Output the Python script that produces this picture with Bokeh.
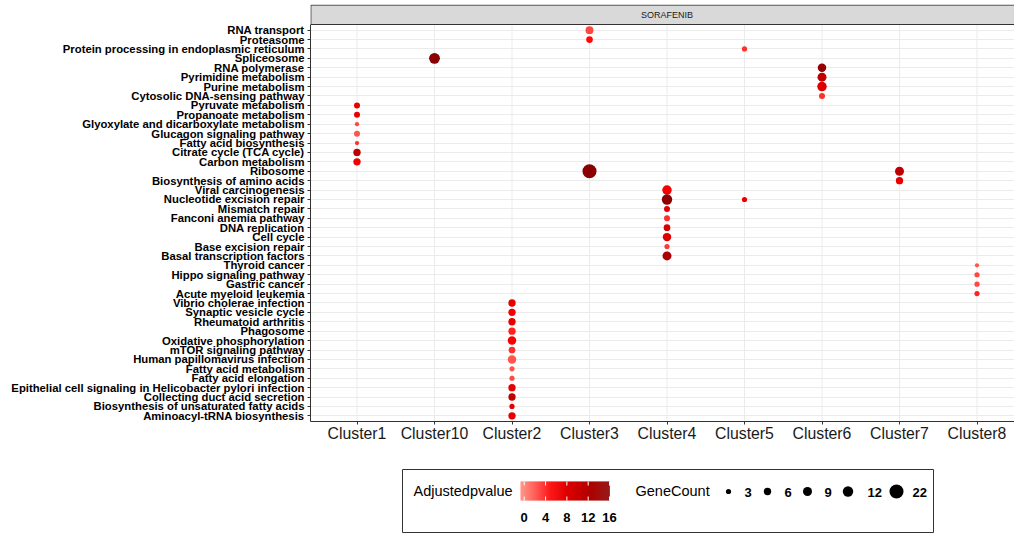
import math
from bokeh.plotting import figure
from bokeh.models import Range1d, FixedTicker, LinearColorMapper, ColumnDataSource
from bokeh.transform import transform
from bokeh.layouts import column
from bokeh.embed import file_html
from bokeh.resources import INLINE
from bokeh.core.properties import value

# ---------------- data ----------------
facet_label = "SORAFENIB"
clusters = ["Cluster1", "Cluster10", "Cluster2", "Cluster3", "Cluster4",
            "Cluster5", "Cluster6", "Cluster7", "Cluster8"]

# y categories, top to bottom
pathways = [
    "RNA transport", "Proteasome", "Protein processing in endoplasmic reticulum",
    "Spliceosome", "RNA polymerase", "Pyrimidine metabolism", "Purine metabolism",
    "Cytosolic DNA-sensing pathway", "Pyruvate metabolism", "Propanoate metabolism",
    "Glyoxylate and dicarboxylate metabolism", "Glucagon signaling pathway",
    "Fatty acid biosynthesis", "Citrate cycle (TCA cycle)", "Carbon metabolism",
    "Ribosome", "Biosynthesis of amino acids", "Viral carcinogenesis",
    "Nucleotide excision repair", "Mismatch repair", "Fanconi anemia pathway",
    "DNA replication", "Cell cycle", "Base excision repair",
    "Basal transcription factors", "Thyroid cancer", "Hippo signaling pathway",
    "Gastric cancer", "Acute myeloid leukemia", "Vibrio cholerae infection",
    "Synaptic vesicle cycle", "Rheumatoid arthritis", "Phagosome",
    "Oxidative phosphorylation", "mTOR signaling pathway",
    "Human papillomavirus infection", "Fatty acid metabolism",
    "Fatty acid elongation",
    "Epithelial cell signaling in Helicobacter pylori infection",
    "Collecting duct acid secretion", "Biosynthesis of unsaturated fatty acids",
    "Aminoacyl-tRNA biosynthesis",
]

dot_pathway = [
    "RNA transport", "Proteasome", "Protein processing in endoplasmic reticulum",
    "Spliceosome", "RNA polymerase", "Pyrimidine metabolism", "Purine metabolism",
    "Cytosolic DNA-sensing pathway", "Pyruvate metabolism", "Propanoate metabolism",
    "Glyoxylate and dicarboxylate metabolism", "Glucagon signaling pathway",
    "Fatty acid biosynthesis", "Citrate cycle (TCA cycle)", "Carbon metabolism",
    "Ribosome", "Ribosome", "Biosynthesis of amino acids", "Viral carcinogenesis",
    "Nucleotide excision repair", "Nucleotide excision repair", "Mismatch repair",
    "Fanconi anemia pathway", "DNA replication", "Cell cycle",
    "Base excision repair", "Basal transcription factors", "Thyroid cancer",
    "Hippo signaling pathway", "Gastric cancer", "Acute myeloid leukemia",
    "Vibrio cholerae infection", "Synaptic vesicle cycle", "Rheumatoid arthritis",
    "Phagosome", "Oxidative phosphorylation", "mTOR signaling pathway",
    "Human papillomavirus infection", "Fatty acid metabolism",
    "Fatty acid elongation",
    "Epithelial cell signaling in Helicobacter pylori infection",
    "Collecting duct acid secretion", "Biosynthesis of unsaturated fatty acids",
    "Aminoacyl-tRNA biosynthesis",
]
dot_cluster = [
    "Cluster3", "Cluster3", "Cluster5", "Cluster10", "Cluster6", "Cluster6",
    "Cluster6", "Cluster6", "Cluster1", "Cluster1", "Cluster1", "Cluster1",
    "Cluster1", "Cluster1", "Cluster1", "Cluster3", "Cluster7", "Cluster7",
    "Cluster4", "Cluster4", "Cluster5", "Cluster4", "Cluster4", "Cluster4",
    "Cluster4", "Cluster4", "Cluster4", "Cluster8", "Cluster8", "Cluster8",
    "Cluster8", "Cluster2", "Cluster2", "Cluster2", "Cluster2", "Cluster2",
    "Cluster2", "Cluster2", "Cluster2", "Cluster2", "Cluster2", "Cluster2",
    "Cluster2", "Cluster2",
]
dot_count = [7, 5, 3, 13, 8, 9, 10, 4, 4, 4, 2, 4, 2, 6, 6, 22, 9, 6, 10, 12, 3,
             4, 4, 5, 8, 3, 9, 2, 3, 3, 3, 6, 6, 6, 6, 8, 5, 8, 3, 3, 6, 6, 3, 6]
dot_padj = [2.0, 4.5, 3.0, 16.0, 15.0, 11.0, 8.0, 3.0, 7.0, 7.0, 2.0, 1.5, 3.0,
            11.0, 6.0, 16.0, 11.0, 7.0, 5.5, 16.0, 7.0, 8.0, 3.0, 9.0, 8.0, 2.5,
            13.0, 1.5, 2.0, 2.0, 3.5, 7.0, 6.0, 7.0, 3.5, 5.5, 3.0, 1.5, 1.5,
            2.0, 7.0, 11.0, 7.0, 7.0]

color_title = "Adjustedpvalue"
color_breaks = [0, 4, 8, 12, 16]
size_title = "GeneCount"
size_breaks = [3, 6, 9, 12, 22]

# ---------------- styling / scales ----------------
FONT = "Liberation Sans"
C_LO, C_HI = -0.7, 16.0
stops = [(0.0, (255, 140, 125)), (0.33, (255, 0, 0)), (1.0, (139, 0, 0))]


def make_palette(n=256):
    out = []
    for i in range(n):
        t = i / (n - 1)
        for (t0, c0), (t1, c1) in zip(stops[:-1], stops[1:]):
            if t0 <= t <= t1:
                f = (t - t0) / (t1 - t0)
                c = tuple(int(round(a + (b - a) * f)) for a, b in zip(c0, c1))
                break
        out.append("#%02x%02x%02x" % c)
    return out


mapper = LinearColorMapper(palette=make_palette(), low=C_LO, high=C_HI)


def dot_size(n):
    return 3.0 * math.sqrt(n)


N = len(pathways)
ypos = {pw: N - 1 - i for i, pw in enumerate(pathways)}
xpos = {c: i for i, c in enumerate(clusters)}

FIG_W = 1014
FRAME_L = 310
px_per_x = 77.5
x_start = -0.6
x_end = x_start + (FIG_W - FRAME_L) / px_per_x
y_lo = -0.6
y_hi = N - 1 + 0.6
px_per_y = 397 / (y_hi - y_lo)
y_end = y_hi + 20 / px_per_y

p = figure(width=FIG_W, height=451, x_range=Range1d(x_start, x_end),
           y_range=Range1d(y_lo, y_end), output_backend="svg",
           toolbar_location=None, title=None,
           min_border_left=FRAME_L, min_border_right=0, min_border_top=4,
           min_border_bottom=30)
p.outline_line_color = None
p.background_fill_color = "white"
p.border_fill_color = "white"

p.xgrid.visible = False
p.ygrid.ticker = FixedTicker(ticks=list(range(N)))
p.ygrid.grid_line_color = "#EBEBEB"
p.ygrid.grid_line_width = 1

xs = list(range(len(clusters)))
p.segment(x0=xs, y0=[y_lo] * len(xs), x1=xs, y1=[y_hi] * len(xs),
          line_color="#EBEBEB", line_width=1)

src = ColumnDataSource(dict(
    x=[xpos[c] for c in dot_cluster],
    y=[ypos[pw] for pw in dot_pathway],
    size=[dot_size(n) for n in dot_count],
    padj=dot_padj,
))
p.scatter("x", "y", size="size", source=src,
          fill_color=transform("padj", mapper), line_color=None)

# facet strip
p.quad(left=[x_start + 0.005], right=[x_end + 2], bottom=[y_hi], top=[y_end - 0.06],
       fill_color="#D9D9D9", line_color="#333333", line_width=1)
p.text(x=[(x_start + (len(clusters) - 1 + 0.6)) / 2], y=[(y_hi + y_end) / 2],
       text=[facet_label], text_align="center", text_baseline="middle",
       text_font=value(FONT), text_font_size="9px", text_color="#1A1A1A")

# axes
p.yaxis.ticker = FixedTicker(ticks=list(range(N)))
p.yaxis.major_label_overrides = {N - 1 - i: pw for i, pw in enumerate(pathways)}
p.yaxis.major_label_text_font = FONT
p.yaxis.major_label_text_font_style = "bold"
p.yaxis.major_label_text_font_size = "11.3px"
p.yaxis.major_label_text_color = "black"
p.yaxis.major_label_standoff = 3
p.yaxis.bounds = (y_lo, y_hi)

p.xaxis.ticker = FixedTicker(ticks=xs)
p.xaxis.major_label_overrides = {i: c for i, c in enumerate(clusters)}
p.xaxis.major_label_text_font = FONT
p.xaxis.major_label_text_font_style = "normal"
p.xaxis.major_label_text_font_size = "15.8px"
p.xaxis.major_label_text_color = "#1A1A1A"
p.xaxis.major_label_standoff = 0

for ax in (p.xaxis, p.yaxis):
    ax.minor_tick_line_color = None
    ax.major_tick_in = 0
    ax.major_tick_out = 3
    ax.major_tick_line_color = "#333333"
    ax.axis_line_color = "#333333"
    ax.axis_line_width = 1

# ---------------- legend figure (page pixel coordinates) ----------------
lf = figure(width=FIG_W, height=84, x_range=Range1d(FRAME_L, FIG_W),
            y_range=Range1d(535, 451), output_backend="svg",
            toolbar_location=None, title=None,
            x_axis_location=None, y_axis_location=None,
            min_border_left=FRAME_L, min_border_right=0,
            min_border_top=0, min_border_bottom=0)
lf.grid.visible = False
lf.outline_line_color = None
lf.background_fill_color = "white"
lf.border_fill_color = "white"

lf.quad(left=[402], right=[933], top=[469], bottom=[532],
        fill_color=None, line_color="#333333", line_width=1)

lf.text(x=[413], y=[490], text=[color_title], text_align="left",
        text_baseline="middle", text_font=value(FONT),
        text_font_size="14.5px", text_color="black")

cb_l, cb_r, cb_t, cb_b = 520, 609, 481, 500
nstep = 90
step_w = (cb_r - cb_l) / nstep
cb_src = ColumnDataSource(dict(
    left=[cb_l + i * step_w for i in range(nstep)],
    right=[cb_l + (i + 1) * step_w + 0.3 for i in range(nstep)],
    v=[C_LO + (i + 0.5) / nstep * (C_HI - C_LO) for i in range(nstep)],
))
lf.quad(left="left", right="right", top=cb_t, bottom=cb_b, source=cb_src,
        fill_color=transform("v", mapper), line_color=None)
bx = [cb_l + (b - C_LO) / (C_HI - C_LO) * (cb_r - cb_l) for b in color_breaks]
lf.segment(x0=bx, y0=[cb_t] * len(bx), x1=bx, y1=[cb_t + 4] * len(bx),
           line_color="white", line_width=1)
lf.segment(x0=bx, y0=[cb_b - 4] * len(bx), x1=bx, y1=[cb_b] * len(bx),
           line_color="white", line_width=1)
lf.text(x=bx, y=[517] * len(bx), text=[str(b) for b in color_breaks],
        text_align="center", text_baseline="middle", text_font=value(FONT),
        text_font_style="bold", text_font_size="13px", text_color="black")

lf.text(x=[635], y=[490], text=[size_title], text_align="left",
        text_baseline="middle", text_font=value(FONT),
        text_font_size="14.5px", text_color="black")
key_x = [728, 767, 807, 847.5, 896]
lab_x = [744, 784, 824, 867, 912]
lf.scatter(x=key_x, y=[491] * len(key_x), size=[dot_size(b) for b in size_breaks],
           fill_color="black", line_color=None)
lf.text(x=lab_x, y=[492] * len(lab_x), text=[str(b) for b in size_breaks],
        text_align="left", text_baseline="middle", text_font=value(FONT),
        text_font_style="bold", text_font_size="13px", text_color="black")

layout = column(p, lf, spacing=0)
open("out.html", "w").write(file_html(layout, INLINE))
